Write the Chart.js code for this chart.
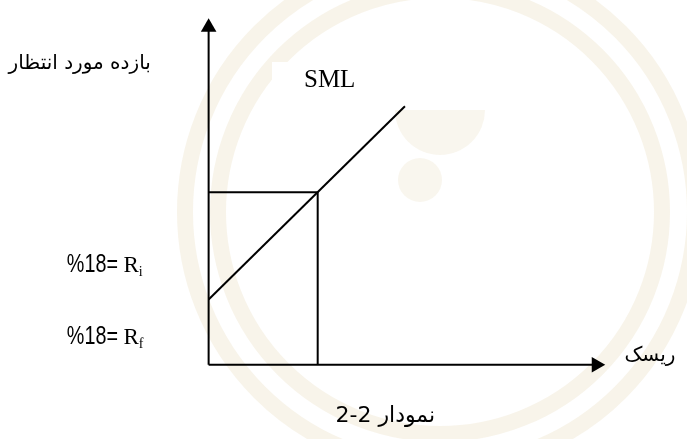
<!DOCTYPE html>
<html>
<head>
<meta charset="utf-8">
<script src="https://cdn.jsdelivr.net/npm/chart.js@4.4.0/dist/chart.umd.min.js"></script>
<style>
  html, body { margin: 0; padding: 0; background: #fff; }
  #wrap { width: 687px; height: 439px; }
</style>
</head>
<body>
<div id="wrap"><canvas id="smlChart" width="687" height="439"></canvas></div>
<script>
// DATA (x = risk / beta, y = expected return)
const smlBeta = [0, 1.8];
const smlReturn = [6.8, 26.96];
const boxBeta = [0, 1, 1];
const boxReturn = [18, 18, 0];
const xAxisBeta = [0, 3.554];
const xAxisReturn = [0, 0];
const yAxisBeta = [0, 0];
const yAxisReturn = [0, 35.2];

// TEXTS
const yTitle = 'بازده مورد انتظار';
const xTitle = 'ریسک';
const lineLabel = 'SML';
const riLabel = ['%18= ', 'R', 'i'];
const rfLabel = ['%18= ', 'R', 'f'];
const caption = 'نمودار 2-2';

const toPoints = (xs, ys) => xs.map((x, i) => ({ x, y: ys[i] }));

// watermark + white boxes behind the labels
const backdrop = {
  id: 'backdrop',
  beforeDatasetsDraw(chart) {
    const { ctx } = chart;
    ctx.save();
    ctx.strokeStyle = 'rgba(226, 210, 172, 0.25)';
    ctx.lineWidth = 16;
    [255, 222].forEach(r => {
      ctx.beginPath();
      ctx.arc(440, 212, r, 0, Math.PI * 2);
      ctx.stroke();
    });
    ctx.fillStyle = 'rgba(226, 210, 172, 0.2)';
    ctx.beginPath();
    ctx.arc(440, 110, 45, 0, Math.PI);
    ctx.fill();
    ctx.beginPath();
    ctx.arc(420, 180, 22, 0, Math.PI * 2);
    ctx.fill();
    ctx.fillStyle = '#fff';
    ctx.fillRect(0, 30, 182, 96);
    ctx.fillRect(272, 62, 113, 38);
    ctx.restore();
  }
};

// axis titles and labels
const labelsPlugin = {
  id: 'labels',
  afterDatasetsDraw(chart) {
    const { ctx, scales: { x, y } } = chart;
    const px = v => x.getPixelForValue(v);
    const py = v => y.getPixelForValue(v);
    ctx.save();
    ctx.fillStyle = '#000';
    ctx.textBaseline = 'middle';

    ctx.direction = 'rtl';
    ctx.font = '20px "DejaVu Sans"';
    ctx.textAlign = 'right';
    ctx.fillText(yTitle, px(-0.53), py(31.4));
    ctx.font = '20px "DejaVu Sans"';
    ctx.textAlign = 'right';
    ctx.fillText(xTitle, px(4.28), py(0.9));
    ctx.font = '22px "DejaVu Sans"';
    ctx.textAlign = 'center';
    ctx.fillText(caption, px(1.62), py(-5.4));

    ctx.direction = 'ltr';
    ctx.font = '25px "Liberation Serif"';
    ctx.textAlign = 'center';
    ctx.fillText(lineLabel, px(1.11), py(29.7));

    ctx.textBaseline = 'alphabetic';
    ctx.textAlign = 'left';
    [[riLabel, 9.7], [rfLabel, 2.2]].forEach(([parts, level]) => {
      const base = py(level);
      let left = px(-1.30);
      ctx.font = '26px "Liberation Sans", Arial, sans-serif';
      ctx.save();
      ctx.translate(left, base);
      ctx.scale(0.76, 1);
      ctx.fillText(parts[0], 0, 0);
      ctx.restore();
      left += ctx.measureText(parts[0]).width * 0.76;
      ctx.font = '23px "Liberation Serif"';
      ctx.fillText(parts[1], left, base);
      left += ctx.measureText(parts[1]).width;
      ctx.font = '14px "Liberation Serif"';
      ctx.fillText(parts[2], left, base + 4);
    });
    ctx.restore();
  }
};

const ink = '#000';
const lineSet = (data, extra) => Object.assign({
  data,
  showLine: true,
  borderColor: ink,
  borderWidth: 2,
  pointRadius: 0,
  fill: false,
  tension: 0
}, extra);

new Chart(document.getElementById('smlChart'), {
  type: 'scatter',
  data: {
    datasets: [
      lineSet(toPoints(boxBeta, boxReturn)),
      lineSet(toPoints(smlBeta, smlReturn)),
      lineSet(toPoints(xAxisBeta, xAxisReturn), {
        pointRadius: [0, 9], pointStyle: 'triangle', rotation: 90,
        pointBackgroundColor: ink, pointBorderWidth: 0
      }),
      lineSet(toPoints(yAxisBeta, yAxisReturn), {
        pointRadius: [0, 9], pointStyle: 'triangle', rotation: 0,
        pointBackgroundColor: ink, pointBorderWidth: 0
      })
    ]
  },
  options: {
    responsive: false,
    animation: false,
    layout: { padding: 0 },
    plugins: { legend: { display: false }, tooltip: { enabled: false } },
    scales: {
      x: { type: 'linear', display: false, min: -205 / 112, max: 482 / 112 },
      y: { type: 'linear', display: false, min: -6.8, max: 37.1 }
    }
  },
  plugins: [backdrop, labelsPlugin]
});
</script>
</body>
</html>
